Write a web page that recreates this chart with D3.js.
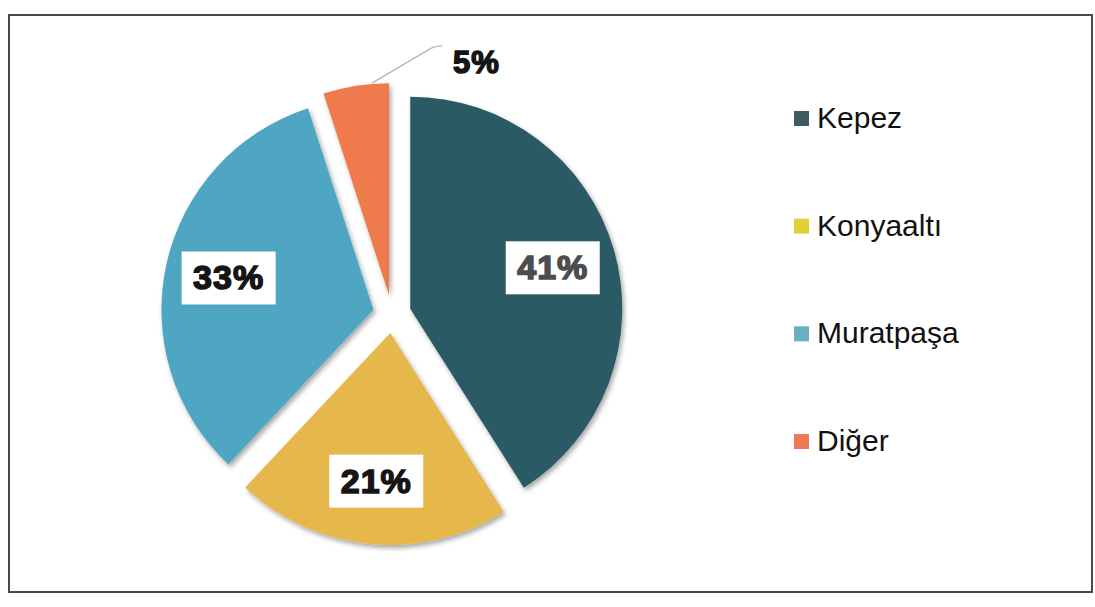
<!DOCTYPE html>
<html>
<head>
<meta charset="utf-8">
<script src="https://cdn.jsdelivr.net/npm/d3@7"></script>
<style>
  html, body { margin: 0; padding: 0; background: #ffffff; }
  svg { display: block; }
</style>
</head>
<body>
<svg id="chart" width="1095" height="607"></svg>
<script>
// ---- data ----
const categories = ["Kepez", "Konyaaltı", "Muratpaşa", "Diğer"];
const values = [41, 21, 33, 5];
const labels = ["41%", "21%", "33%", "5%"];
const sliceColors = ["#2c5a63", "#e6b74b", "#4fa6c3", "#ef7a4c"];
const legendColors = ["#3d5c62", "#e2cf33", "#6aaec6", "#ee7a55"];
const labelColors = ["#4d4d4d", "#151515", "#151515", "#151515"];

// ---- layout ----
const svg = d3.select("#chart");
const cx = 392, cy = 314, R = 212, explode = 19;

// frame
svg.append("rect")
  .attr("x", 9).attr("y", 15).attr("width", 1083).attr("height", 577)
  .attr("fill", "none").attr("stroke", "#4a4a4a").attr("stroke-width", 2);

const defs = svg.append("defs");
const f = defs.append("filter").attr("id", "shadow")
  .attr("x", "-20%").attr("y", "-20%").attr("width", "140%").attr("height", "140%");
f.append("feDropShadow").attr("dx", 2).attr("dy", 3)
  .attr("stdDeviation", 2.5).attr("flood-color", "#000").attr("flood-opacity", 0.35);

const pie = d3.pie().sort(null).value(d => d.v);
const arcs = pie(categories.map((c, i) => ({ c, v: values[i], i })));
const arc = d3.arc().innerRadius(0).outerRadius(R);

const g = svg.append("g").attr("transform", `translate(${cx},${cy})`);

function offset(d) {
  const a = (d.startAngle + d.endAngle) / 2;
  return [Math.sin(a) * explode, -Math.cos(a) * explode];
}

g.selectAll("path.slice").data(arcs).join("path")
  .attr("class", "slice")
  .attr("transform", d => { const o = offset(d); return `translate(${o[0]},${o[1]})`; })
  .attr("d", arc)
  .attr("fill", d => sliceColors[d.data.i])
  .attr("filter", "url(#shadow)");

// labels
const labelArc = d3.arc().innerRadius(R * 0.7).outerRadius(R * 0.7);
const fontCSS = "'Liberation Sans', Arial, sans-serif";

arcs.forEach(d => {
  const i = d.data.i;
  const o = offset(d);
  if (values[i] >= 10) {
    const c = labelArc.centroid(d);
    const x = c[0] + o[0], y = c[1] + o[1];
    g.append("rect")
      .attr("x", x - 47).attr("y", y - 26).attr("width", 94).attr("height", 53)
      .attr("fill", "#ffffff");
    g.append("text")
      .attr("x", x).attr("y", y + 12)
      .attr("text-anchor", "middle")
      .attr("font-family", fontCSS).attr("font-weight", "bold")
      .attr("font-size", 34)
      .attr("fill", labelColors[i]).attr("stroke", labelColors[i]).attr("stroke-width", 1.5)
      .attr("letter-spacing", 1)
      .text(labels[i]);
  } else {
    // outside label with leader line
    const a = d.startAngle + (d.endAngle - d.startAngle) * 0.75;
    const ex = o[0] + Math.sin(a) * (R + 1), ey = o[1] - Math.cos(a) * (R + 1);
    g.append("path")
      .attr("d", `M${ex},${ey} L${ex + 56},${ey - 33} Q${ex + 62},${ey - 37} ${ex + 70},${ey - 37}`)
      .attr("fill", "none").attr("stroke", "#b5b5b5").attr("stroke-width", 1.3);
    g.append("text")
      .attr("x", ex + 104).attr("y", ey - 10)
      .attr("text-anchor", "middle")
      .attr("font-family", fontCSS).attr("font-weight", "bold")
      .attr("font-size", 31)
      .attr("fill", labelColors[i]).attr("stroke", labelColors[i]).attr("stroke-width", 1.5)
      .attr("letter-spacing", 1)
      .text(labels[i]);
  }
});

// legend
const ly = d3.scalePoint().domain(categories).range([128, 451]);
const leg = svg.append("g");
categories.forEach((c, i) => {
  leg.append("rect")
    .attr("x", 794).attr("y", ly(c) - 17).attr("width", 15).attr("height", 15)
    .attr("fill", legendColors[i]);
  leg.append("text")
    .attr("x", 817).attr("y", ly(c))
    .attr("font-family", fontCSS).attr("font-size", 30)
    .attr("fill", "#111")
    .text(c);
});
</script>
</body>
</html>
